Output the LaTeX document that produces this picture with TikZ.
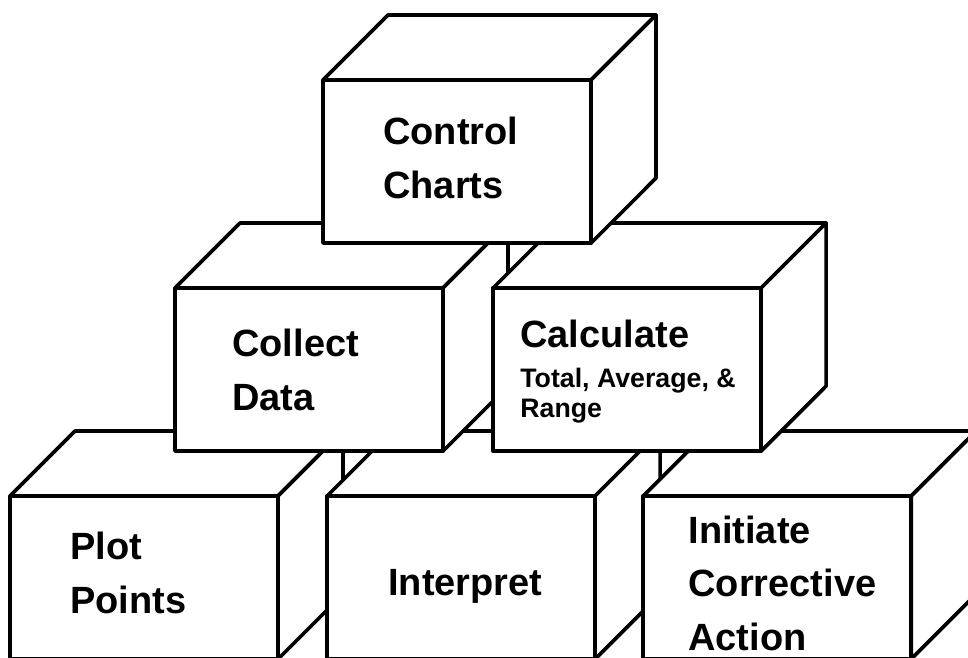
\documentclass[tikz,border=0pt]{standalone}
\usepackage{fontspec}
\setmainfont{Liberation Sans}
\usetikzlibrary{positioning,calc}

\tikzset{
  crate/.style={draw, fill=white, line width=2.6pt, line join=round, rectangle,
    minimum width=6.7cm, minimum height=4.075cm, inner sep=0pt, outer sep=0pt,
    anchor=north west},
  face/.style={draw, fill=white, line width=2.6pt, line join=round},
  % base west sits on the last line of a multi-line label
  lbl/.style={font=\bfseries\fontsize{27}{37.7}\selectfont, align=left,
    inner sep=0pt, anchor=base west},
  sublbl/.style={lbl, font=\bfseries\fontsize{19}{21.3}\selectfont}
}
% top and right faces of a crate (front face is the node)
\newcommand{\crateside}[1]{%
  \draw[face] (#1.north west) -- ++(65,-65) -- ++(268,0) -- (#1.north east) -- cycle;
  \draw[face] (#1.north east) -- ++(65,-65) -- ++(0,163) -- (#1.south east) -- cycle;
}

\begin{document}
\begin{tikzpicture}[x=0.025cm, y=-0.025cm]
\clip (0,0) rectangle (968,658);

% bottom row
\node[crate] (pp) at (10,496) {};
\crateside{pp}
\node[lbl] (ppt) at ($(pp.north west)+(60,117)$) {Plot\\Points};

\node[crate, right=1.225cm of pp] (ip) {};
\crateside{ip}
\node[lbl] (ipt) at ($(ip.north west)+(61,99)$) {Interpret};

\node[crate, right=1.2cm of ip] (ia) {};
\crateside{ia}
\node[lbl] (iat) at ($(ia.north west)+(45,154)$) {Initiate\\Corrective\\Action};

% middle row
\node[crate] (cd) at (175,288) {};
\crateside{cd}
\node[lbl] (cdt) at ($(cd.north west)+(57,122)$) {Collect\\Data};

\node[crate, right=1.25cm of cd] (ca) {};
\crateside{ca}
\node[lbl] (cat) at ($(ca.north west)+(27,59)$) {Calculate};
\node[sublbl] (cas) at ($(ca.north west)+(27,129)$) {Total, Average, \&\\Range};

% top
\node[crate] (cc) at (323,80) {};
\crateside{cc}
\node[lbl] (cct) at ($(cc.north west)+(60,118)$) {Control\\Charts};
\end{tikzpicture}
\end{document}
